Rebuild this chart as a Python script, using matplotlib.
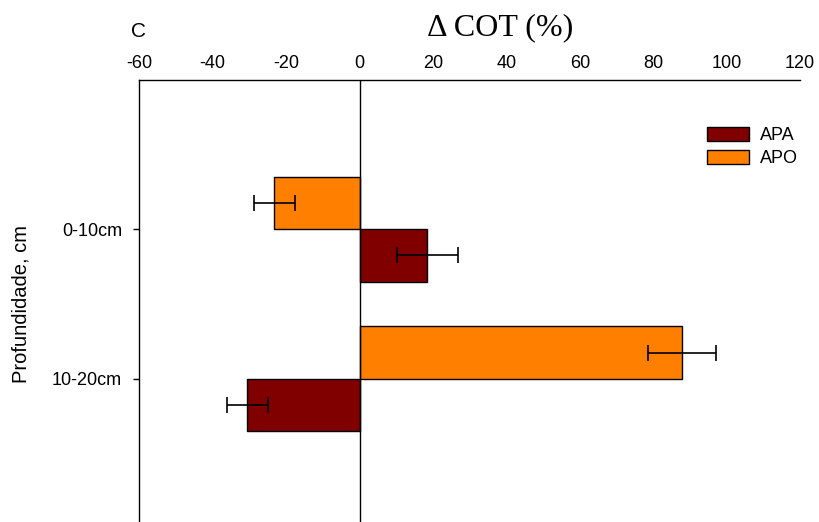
import matplotlib
matplotlib.use("Agg")
import matplotlib.pyplot as plt
from matplotlib.patches import Patch
import numpy as np

# Soil organic carbon change by depth
depths = ["0-10cm", "10-20cm"]
apa_values = [18.5, -30.6]
apa_errors = [8.3, 5.6]
apo_values = [-23.2, 87.9]
apo_errors = [5.6, 9.3]
xticks = [-60, -40, -20, 0, 20, 40, 60, 80, 100, 120]

c_apa = "#800000"
c_apo = "#FF8000"

plt.rcParams["font.family"] = ["Liberation Sans", "DejaVu Sans"]

W, H = 819, 522
fig = plt.figure(figsize=(W / 100, H / 100), dpi=100)
left, right, top, bottom = 139.3, 800.0, 80.0, 522.0
ax = fig.add_axes([left / W, 1 - bottom / H, (right - left) / W, (bottom - top) / H])

y = np.arange(len(depths))
h = 0.35
err_kw = dict(ecolor="black", elinewidth=1.2, capsize=5.5, capthick=1.2)
ax.barh(y - h / 2, apo_values, height=h, color=c_apo, edgecolor="black",
        linewidth=1.0, xerr=apo_errors, error_kw=err_kw, zorder=2)
ax.barh(y + h / 2, apa_values, height=h, color=c_apa, edgecolor="black",
        linewidth=1.0, xerr=apa_errors, error_kw=err_kw, zorder=2)

ax.axvline(0, color="black", linewidth=1.0, zorder=3)

ax.set_xlim(-60, 120)
ax.set_ylim(1.96, -1.0)
ax.xaxis.tick_top()
ax.set_xticks(xticks)
ax.set_xticklabels([str(t) for t in xticks], fontsize=13)
ax.tick_params(axis="x", length=0, pad=5.5)
ax.set_yticks(y)
ax.set_yticklabels(depths, fontsize=13)
ax.tick_params(axis="y", length=4.3, width=1.0, pad=8, direction="out")

for s in ["right", "bottom"]:
    ax.spines[s].set_visible(False)
for s in ["top", "left"]:
    ax.spines[s].set_linewidth(1.0)

fig.text(21.5 / W, 1 - 304 / H, "Profundidade, cm", fontsize=14.5, rotation=90,
         ha="center", va="center")

fig.text(500 / W, 1 - 28 / H, "Δ COT (%)", fontsize=23, family="Liberation Serif",
         ha="center", va="center")
fig.text(131 / W, 1 - 31 / H, "C", fontsize=15, ha="left", va="center")

handles = [Patch(facecolor=c_apa, edgecolor="black", linewidth=1.0, label="APA"),
           Patch(facecolor=c_apo, edgecolor="black", linewidth=1.0, label="APO")]
ax.legend(handles=handles, loc="upper left", bbox_to_anchor=(707 / W, 1 - 127 / H),
          bbox_transform=fig.transFigure, frameon=False, fontsize=13,
          handlelength=2.35, handleheight=0.85, handletextpad=0.6, labelspacing=0.3,
          borderpad=0, borderaxespad=0)

fig.savefig("out.png", dpi=100)
